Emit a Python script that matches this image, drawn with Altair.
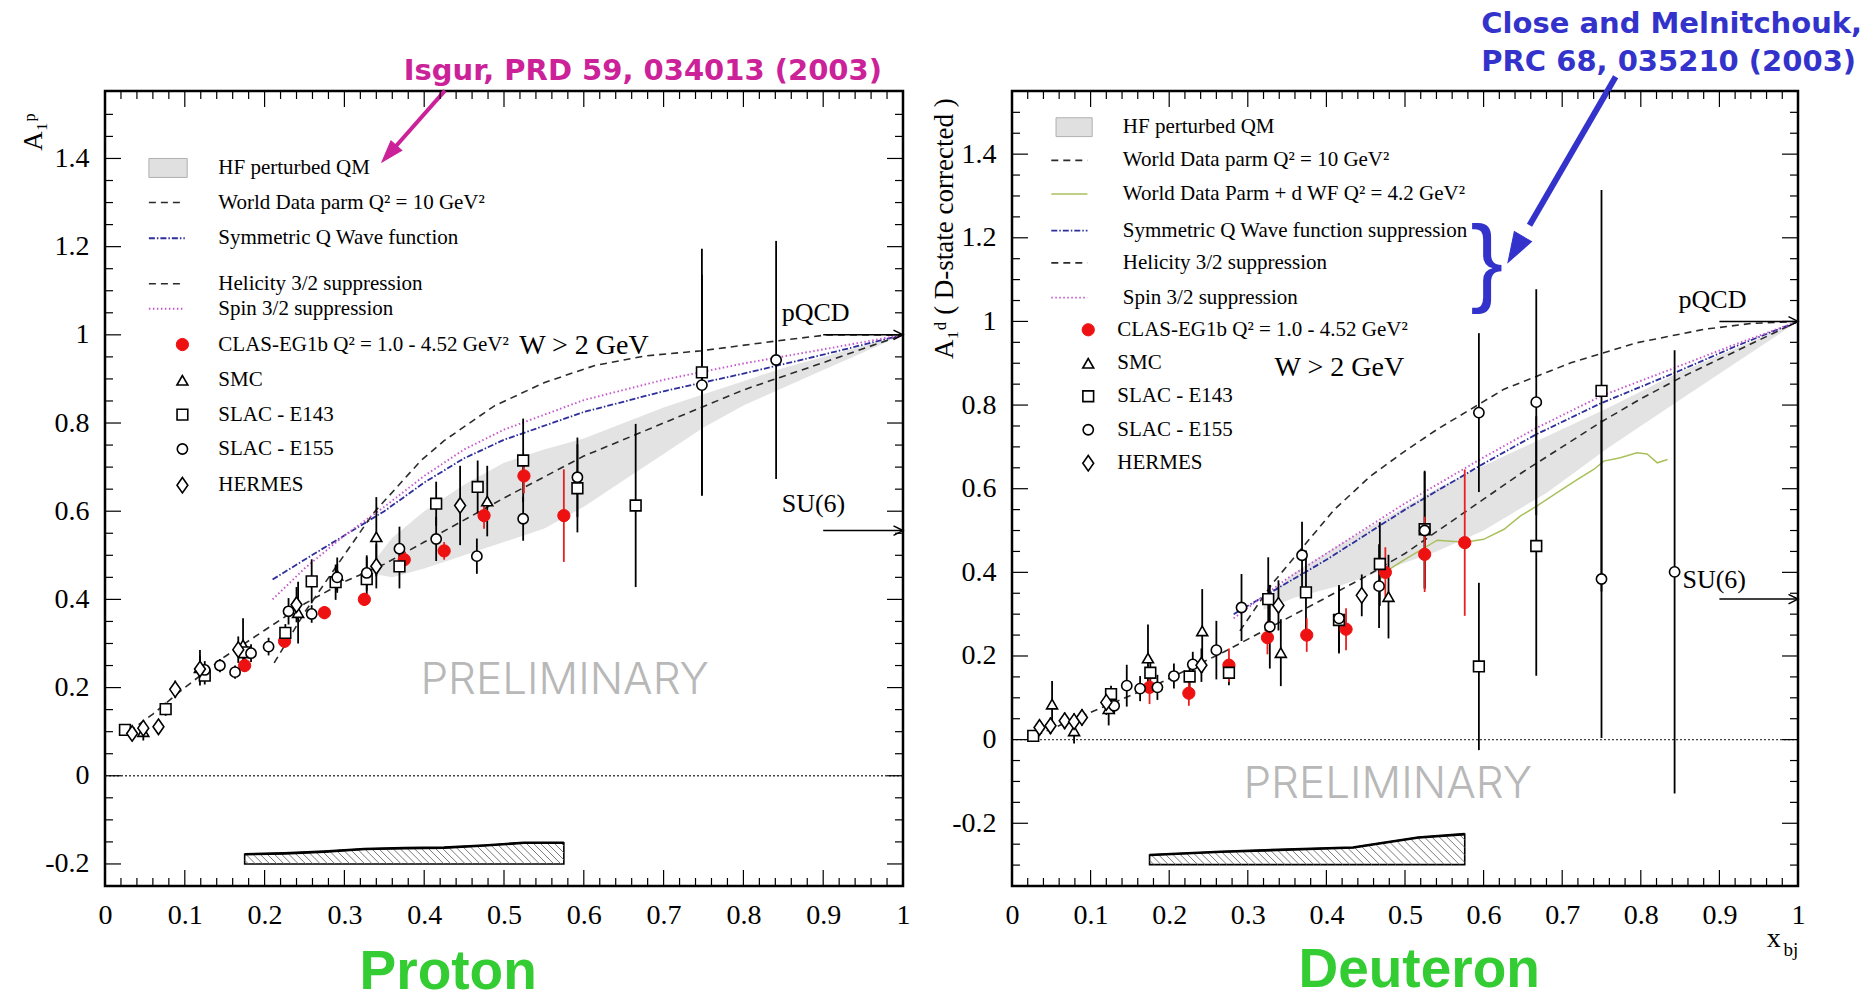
import altair as alt
import numpy as np
import pandas as pd

SERIF = "Liberation Serif"
HEAD = "DejaVu Sans"
BIG = "Liberation Sans"

# ---------------- shared axis structure ----------------
X_LABELS = [0, 0.1, 0.2, 0.3, 0.4, 0.5, 0.6, 0.7, 0.8, 0.9, 1]
X_MAJOR = [0.1, 0.2, 0.3, 0.4, 0.5, 0.6, 0.7, 0.8, 0.9]
X_MINOR = [round(k * 0.02, 2) for k in range(1, 50) if k % 5]
Y_LABELS = [-0.2, 0, 0.2, 0.4, 0.6, 0.8, 1, 1.2, 1.4]
Y_MAJOR = [-0.2, 0, 0.2, 0.4, 0.6, 0.8, 1, 1.2, 1.4]
P_YMINOR = [round(k * 0.05, 2) for k in range(-4, 31) if k % 4]
D_YMINOR = [round(k * 0.05, 2) for k in range(-6, 31) if k % 4]

# ---------------- PROTON data ----------------
P_CLAS_X = [0.175, 0.225, 0.275, 0.325, 0.375, 0.425, 0.475, 0.525, 0.575]
P_CLAS_Y = [0.25, 0.305, 0.37, 0.40, 0.49, 0.51, 0.59, 0.68, 0.59]
P_CLAS_E = [0.015, 0.015, 0.015, 0.015, 0.02, 0.02, 0.03, 0.04, 0.105]

P_SMC_X = [0.048, 0.119, 0.173, 0.242, 0.291, 0.340, 0.479]
P_SMC_Y = [0.10, 0.245, 0.297, 0.37, 0.455, 0.542, 0.623]
P_SMC_E = [0.02, 0.04, 0.06, 0.07, 0.04, 0.09, 0.08]

P_E143_X = [0.025, 0.076, 0.125, 0.175, 0.226, 0.259, 0.289, 0.328, 0.369, 0.415, 0.467, 0.524, 0.592, 0.665, 0.748]
P_E143_Y = [0.104, 0.151, 0.227, 0.28, 0.324, 0.441, 0.439, 0.446, 0.475, 0.617, 0.655, 0.715, 0.652, 0.613, 0.915]
P_E143_E = [0.01, 0.015, 0.02, 0.02, 0.02, 0.05, 0.04, 0.05, 0.05, 0.05, 0.06, 0.095, 0.10, 0.185, 0.28]

P_E155_X = [0.125, 0.144, 0.163, 0.183, 0.205, 0.23, 0.259, 0.291, 0.328, 0.369, 0.415, 0.466, 0.524, 0.592, 0.748, 0.841]
P_E155_Y = [0.24, 0.25, 0.235, 0.278, 0.293, 0.373, 0.367, 0.45, 0.46, 0.515, 0.537, 0.498, 0.583, 0.677, 0.886, 0.943]
P_E155_E = [0.02, 0.015, 0.015, 0.02, 0.02, 0.03, 0.02, 0.03, 0.04, 0.05, 0.05, 0.04, 0.05, 0.09, 0.25, 0.27]

P_HER_X = [0.034, 0.048, 0.067, 0.088, 0.119, 0.167, 0.24, 0.34, 0.445]
P_HER_Y = [0.096, 0.108, 0.111, 0.196, 0.242, 0.286, 0.388, 0.475, 0.613]
P_HER_E = [0.015, 0.015, 0.015, 0.02, 0.03, 0.03, 0.04, 0.05, 0.09]

# model curves (proton)
P_WD_X = [0.03, 0.06, 0.1, 0.15, 0.2, 0.25, 0.3, 0.35, 0.4, 0.5, 0.6, 0.7, 0.8, 0.9, 1.0]
P_WD_Y = [0.10, 0.14, 0.20, 0.27, 0.33, 0.39, 0.44, 0.48, 0.53, 0.63, 0.725, 0.80, 0.875, 0.937, 1.0]
P_HEL_X = [0.212, 0.25, 0.29, 0.336, 0.396, 0.425, 0.488, 0.551, 0.613, 0.676, 0.748, 0.841, 0.906, 1.0]
P_HEL_Y = [0.256, 0.37, 0.475, 0.595, 0.715, 0.76, 0.839, 0.892, 0.93, 0.952, 0.964, 0.986, 1.0, 1.0]
P_SYM_X = [0.21, 0.25, 0.3, 0.35, 0.4, 0.45, 0.5, 0.6, 0.7, 0.8, 0.9, 1.0]
P_SYM_Y = [0.445, 0.49, 0.545, 0.60, 0.665, 0.72, 0.762, 0.825, 0.872, 0.912, 0.955, 1.0]
P_SPIN_Y = [0.40, 0.47, 0.545, 0.61, 0.68, 0.74, 0.785, 0.852, 0.898, 0.935, 0.967, 1.0]
P_BAND_X = [0.33, 0.36, 0.4, 0.45, 0.5, 0.55, 0.6, 0.65, 0.7, 0.75, 0.8, 0.85, 0.9, 0.95, 1.0]
P_BAND_HI = [0.47, 0.54, 0.60, 0.66, 0.71, 0.74, 0.765, 0.80, 0.835, 0.865, 0.895, 0.925, 0.95, 0.975, 1.0]
P_BAND_LO = [0.46, 0.45, 0.47, 0.50, 0.53, 0.56, 0.61, 0.67, 0.73, 0.79, 0.84, 0.88, 0.92, 0.96, 1.0]
P_SYS_X = [0.175, 0.225, 0.275, 0.325, 0.375, 0.425, 0.475, 0.525, 0.575]
P_SYS_TOP = [-0.178, -0.176, -0.172, -0.166, -0.164, -0.163, -0.158, -0.152, -0.152]
P_SYS_BOT = [-0.2] * 9

# ---------------- DEUTERON data ----------------
D_CLAS_X = [0.175, 0.225, 0.276, 0.325, 0.375, 0.425, 0.475, 0.525, 0.576]
D_CLAS_Y = [0.125, 0.111, 0.178, 0.244, 0.25, 0.264, 0.40, 0.443, 0.471]
D_CLAS_E = [0.04, 0.03, 0.04, 0.04, 0.04, 0.05, 0.06, 0.09, 0.175]

D_SMC_X = [0.051, 0.079, 0.123, 0.173, 0.242, 0.342, 0.479]
D_SMC_Y = [0.085, 0.021, 0.074, 0.195, 0.26, 0.208, 0.342]
D_SMC_E = [0.055, 0.03, 0.04, 0.08, 0.1, 0.08, 0.1]

D_E143_X = [0.027, 0.126, 0.176, 0.226, 0.276, 0.326, 0.374, 0.416, 0.468, 0.525, 0.594, 0.667, 0.750]
D_E143_Y = [0.009, 0.109, 0.16, 0.151, 0.16, 0.336, 0.352, 0.286, 0.42, 0.503, 0.175, 0.463, 0.834]
D_E143_E = [0.01, 0.02, 0.03, 0.03, 0.03, 0.1, 0.1, 0.08, 0.1, 0.14, 0.2, 0.31, 0.48]

D_E155_X = [0.13, 0.146, 0.163, 0.185, 0.206, 0.23, 0.26, 0.292, 0.328, 0.369, 0.416, 0.467, 0.525, 0.594, 0.667, 0.750, 0.843]
D_E155_Y = [0.081, 0.129, 0.122, 0.125, 0.152, 0.18, 0.214, 0.316, 0.27, 0.441, 0.29, 0.367, 0.50, 0.782, 0.807, 0.384, 0.401]
D_E155_E = [0.02, 0.05, 0.03, 0.03, 0.03, 0.03, 0.07, 0.08, 0.1, 0.08, 0.08, 0.1, 0.14, 0.19, 0.27, 0.38, 0.53]

D_HER_X = [0.035, 0.049, 0.067, 0.079, 0.089, 0.12, 0.241, 0.339, 0.445]
D_HER_Y = [0.029, 0.033, 0.045, 0.043, 0.053, 0.089, 0.178, 0.321, 0.345]
D_HER_E = [0.015, 0.02, 0.02, 0.02, 0.02, 0.03, 0.04, 0.06, 0.05]

D_WD_X = [0.03, 0.1, 0.19, 0.27, 0.36, 0.445, 0.5, 0.55, 0.6, 0.65, 0.7, 0.75, 0.8, 0.85, 0.9, 0.95, 1.0]
D_WD_Y = [0.01, 0.065, 0.137, 0.21, 0.30, 0.385, 0.445, 0.51, 0.575, 0.64, 0.70, 0.76, 0.815, 0.865, 0.91, 0.955, 1.0]
D_HEL_X = [0.29, 0.33, 0.372, 0.41, 0.456, 0.5, 0.541, 0.626, 0.711, 0.795, 0.88, 0.94, 1.0]
D_HEL_Y = [0.26, 0.37, 0.465, 0.55, 0.63, 0.69, 0.742, 0.838, 0.901, 0.949, 0.981, 0.995, 1.0]
D_SYM_X = [0.282, 0.35, 0.4, 0.45, 0.5, 0.55, 0.6, 0.667, 0.75, 0.843, 0.92, 1.0]
D_SYM_Y = [0.30, 0.375, 0.43, 0.49, 0.55, 0.605, 0.66, 0.73, 0.805, 0.877, 0.94, 1.0]
D_SPIN_Y = [0.29, 0.385, 0.445, 0.505, 0.565, 0.62, 0.675, 0.745, 0.822, 0.889, 0.945, 1.0]
D_DWF_X = [0.47, 0.474, 0.499, 0.541, 0.576, 0.600, 0.626, 0.647, 0.668, 0.694, 0.719, 0.740, 0.753, 0.774, 0.795, 0.808, 0.821, 0.834]
D_DWF_Y = [0.385, 0.40, 0.43, 0.477, 0.472, 0.479, 0.503, 0.535, 0.559, 0.591, 0.622, 0.646, 0.666, 0.674, 0.686, 0.683, 0.662, 0.670]
D_BAND_X = [0.32, 0.36, 0.42, 0.48, 0.54, 0.6, 0.68, 0.76, 0.84, 0.92, 1.0]
D_BAND_HI = [0.33, 0.40, 0.47, 0.535, 0.60, 0.655, 0.725, 0.795, 0.87, 0.935, 1.0]
D_BAND_LO = [0.31, 0.34, 0.37, 0.41, 0.45, 0.50, 0.59, 0.70, 0.80, 0.90, 1.0]
D_SYS_X = [0.175, 0.266, 0.434, 0.471, 0.517, 0.576]
D_SYS_TOP = [-0.276, -0.268, -0.258, -0.247, -0.234, -0.226]
D_SYS_BOT = [-0.299] * 6

# ---------------- legend text ----------------
P_LEG_LINES = ["HF perturbed QM", "World Data parm Q\u00b2 = 10 GeV\u00b2", "Symmetric Q Wave function",
               "Helicity 3/2 suppression", "Spin 3/2 suppression"]
P_LEG_LINES_Y = [1.378, 1.30, 1.219, 1.116, 1.059]
P_LEG_MARKS = ["CLAS-EG1b Q\u00b2 = 1.0 - 4.52 GeV\u00b2", "SMC", "SLAC - E143", "SLAC - E155", "HERMES"]
P_LEG_MARKS_Y = [0.978, 0.897, 0.819, 0.741, 0.659]

D_LEG_LINES = ["HF perturbed QM", "World Data parm Q\u00b2 = 10 GeV\u00b2", "World Data Parm + d WF Q\u00b2 = 4.2 GeV\u00b2",
               "Symmetric Q Wave function suppression", "Helicity 3/2 suppression", "Spin 3/2 suppression"]
D_LEG_LINES_Y = [1.464, 1.385, 1.305, 1.217, 1.140, 1.057]
D_LEG_MARKS = P_LEG_MARKS
D_LEG_MARKS_Y = [0.980, 0.900, 0.821, 0.741, 0.661]

# ---------------- styles ----------------
STY = {
    "wd": dict(color="#2b2b2b", strokeDash=[7, 5], strokeWidth=1.6),
    "hel": dict(color="#2b2b2b", strokeDash=[7, 5], strokeWidth=1.6),
    "sym": dict(color="#2e2e9c", strokeDash=[6, 2, 1.5, 2], strokeWidth=1.8),
    "spin": dict(color="#c455cc", strokeDash=[1.5, 2.5], strokeWidth=1.9),
    "dwf": dict(color="#a8c05c", strokeWidth=1.5),
}
DIAMOND = "M 0 -1 L 0.7 0 L 0 1 L -0.7 0 Z"
PT = {
    "clas": dict(shape="circle", size=150, fill="#ee1111", stroke="#ee1111", strokeWidth=1),
    "smc": dict(shape="triangle-up", size=120, fill="white", stroke="black", strokeWidth=1.6),
    "e143": dict(shape="square", size=115, fill="white", stroke="black", strokeWidth=1.6),
    "e155": dict(shape="circle", size=105, fill="white", stroke="black", strokeWidth=1.6),
    "hermes": dict(shape=DIAMOND, size=240, fill="white", stroke="black", strokeWidth=1.6),
}
BARC = {"clas": "#e82020", "smc": "black", "e143": "black", "e155": "black", "hermes": "black"}
ORDER = ["hermes", "smc", "e143", "e155", "clas"]


def pts(xs, ys, errs=None):
    d = {"x": list(xs), "y": list(ys)}
    if errs is not None:
        d["lo"] = [round(a - b, 4) for a, b in zip(ys, errs)]
        d["hi"] = [round(a + b, 4) for a, b in zip(ys, errs)]
    return pd.DataFrame(d)


def hatch_lines(sx, stop, sbot, W, H, ydom, spacing_px=7.0):
    """45-degree '\\' hatch strokes filling the systematic-error band."""
    ppy = H / (ydom[1] - ydom[0])
    x0, x1 = sx[0], sx[-1]
    rows = []
    xi = x0 - 0.06
    while xi < x1:
        yt = float(np.interp(min(max(xi, x0), x1), sx, stop))
        yb = float(np.interp(min(max(xi, x0), x1), sx, sbot))
        xe = xi + (yt - yb) * ppy / W
        t0 = max(0.0, (x0 - xi) / (xe - xi))
        t1 = min(1.0, (x1 - xi) / (xe - xi))
        if t1 > t0:
            rows.append({"x": xi + t0 * (xe - xi), "y": yt + t0 * (yb - yt),
                         "x2": xi + t1 * (xe - xi), "y2": yt + t1 * (yb - yt)})
        xi += spacing_px / W
    return pd.DataFrame(rows)


def panel(p):
    W, H = p["W"], p["H"]
    xs = alt.Scale(domain=[0, 1], nice=False, zero=False)
    ys = alt.Scale(domain=p["ydom"], nice=False, zero=False)
    AX = alt.Axis(values=X_LABELS, format="~g", title=None, ticks=False, domain=False, grid=False,
                  labelFont=SERIF, labelFontSize=28, labelColor="black", labelPadding=15,
                  labelOverlap=False, labelFlush=False)
    AY = alt.Axis(values=Y_LABELS, format="~g", title=None, ticks=False, domain=False, grid=False,
                  labelExpr="replace(datum.label, '\u2212', '-')",
                  labelFont=SERIF, labelFontSize=28, labelColor="black", labelPadding=p["ylabpad"],
                  labelOverlap=False, labelFlush=False)

    def ex(f="x"):
        return alt.X(f"{f}:Q", scale=xs, axis=AX)

    def ey(f="y"):
        return alt.Y(f"{f}:Q", scale=ys, axis=AY)

    L = []
    # HF band
    bx, bhi, blo = p["band"]
    L.append(alt.Chart(pd.DataFrame({"x": bx, "hi": bhi, "lo": blo})).mark_area(color="#e3e3e3").encode(
        x=ex(), y=ey("hi"), y2=alt.Y2("lo")))
    # zero line
    L.append(alt.Chart(pd.DataFrame({"y": [0]})).mark_rule(color="#444", strokeDash=[2, 2], strokeWidth=1.3).encode(
        y=ey(), x=alt.value(0), x2=alt.value(W)))
    # systematic band: outline + hatch + thick top edge
    sx, stop, sbot = p["sys"]
    sdf = pd.DataFrame({"x": sx, "top": stop, "bot": sbot})
    L.append(alt.Chart(sdf).mark_area(fill="white", stroke="black", strokeWidth=1.6).encode(
        x=ex(), y=ey("top"), y2=alt.Y2("bot")))
    L.append(alt.Chart(hatch_lines(sx, stop, sbot, W, H, p["ydom"])).mark_rule(
        color="#6a6a6a", strokeWidth=0.9).encode(x=ex(), y=ey(), x2=alt.X2("x2"), y2=alt.Y2("y2")))
    L.append(alt.Chart(sdf).mark_line(color="black", strokeWidth=2.6).encode(x=ex(), y=ey("top")))
    # curves + legend samples
    for key, cx, cy, ly in p["curves"]:
        lx0, lx1 = p["legline_x"]
        d = pd.DataFrame({"x": list(cx) + [lx0, lx1], "y": list(cy) + [ly, ly],
                          "g": ["c"] * len(cx) + ["l", "l"]})
        L.append(alt.Chart(d).mark_line(**STY[key]).encode(x=ex(), y=ey(), detail="g:N"))
    # legend box for HF band
    bxl, byl = p["legbox"]
    L.append(alt.Chart(pd.DataFrame({"x": [bxl[0]], "x2": [bxl[1]], "y": [byl[0]], "y2": [byl[1]]}))
             .mark_rect(fill="#e0e0e0", stroke="#b0b0b0", strokeWidth=1).encode(
        x=ex(), x2=alt.X2("x2"), y=ey(), y2=alt.Y2("y2")))
    # error bars
    for key in ORDER:
        sx_, sy_, se_ = p["sets"][key]
        L.append(alt.Chart(pts(sx_, sy_, se_)).mark_rule(color=BARC[key], strokeWidth=1.8).encode(
            x=ex(), y=ey("lo"), y2=alt.Y2("hi")))
    # markers (+ legend marker)
    mx = p["legmark_x"]
    for i, key in enumerate(["clas", "smc", "e143", "e155", "hermes"]):
        sx_, sy_, se_ = p["sets"][key]
        d = pts(list(sx_) + [mx], list(sy_) + [p["legmark_y"][i]])
        L.append(alt.Chart(d).mark_point(filled=True, opacity=1, **PT[key]).encode(x=ex(), y=ey()))
    # legend texts
    tl = pd.DataFrame({"x": [p["legtext_x"]] * len(p["leglines"]), "y": p["leglines_y"], "t": p["leglines"]})
    tm = pd.DataFrame({"x": [p["legmtext_x"]] * len(p["legmarks"]), "y": p["legmarks_y"], "t": p["legmarks"]})
    for d in (tl, tm):
        L.append(alt.Chart(d).mark_text(font=SERIF, fontSize=21, align="left", baseline="middle",
                                        color="black").encode(x=ex(), y=ey(), text="t:N"))
    # misc serif texts
    for (tx, ty, txt, fs) in p["texts"]:
        L.append(alt.Chart(pd.DataFrame({"x": [tx], "y": [ty], "t": [txt]})).mark_text(
            font=SERIF, fontSize=fs, align="left", baseline="middle", color="black").encode(
            x=ex(), y=ey(), text="t:N"))
    # pQCD / SU(6) arrows
    arr = pd.DataFrame({"x": [0.9, 0.9], "x2": [1.0, 1.0], "y": p["arrows_y"]})
    L.append(alt.Chart(arr).mark_rule(color="black", strokeWidth=1.5).encode(
        x=ex(), x2=alt.X2("x2"), y=ey()))
    L.append(alt.Chart(arr).mark_point(shape="M -2 -1 L 0 0 L -2 1", size=90, filled=False, color="black",
                                       strokeWidth=1.5, opacity=1).encode(x=ex("x2"), y=ey()))
    # PRELIMINARY
    prx, pry = p["prelim"]
    L.append(alt.Chart(pd.DataFrame({"x": [prx], "y": [pry], "t": ["PRELIMINARY"]})).mark_text(
        font="Inter", fontWeight=300, fontSize=44, color="#b8b8b8", align="center", baseline="middle").encode(
        x=ex(), y=ey(), text="t:N"))
    # y title (rotated)
    tx, ty, ttxt = p["ytitle"]
    L.append(alt.Chart(pd.DataFrame({"x": [tx], "y": [ty], "t": [ttxt]})).mark_text(
        font=SERIF, fontSize=27, angle=270, align="center", baseline="middle", color="black").encode(
        x=ex(), y=ey(), text="t:N"))
    # big green label
    gx, gy, gtxt = p["label"]
    L.append(alt.Chart(pd.DataFrame({"x": [gx], "y": [gy], "t": [gtxt]})).mark_text(
        font=BIG, fontWeight="bold", fontSize=55, color="#33cc33", align="center", baseline="middle").encode(
        x=ex(), y=ey(), text="t:N"))
    # citation text
    for (cx_, cy_, ctxt, align) in p["cite"]:
        L.append(alt.Chart(pd.DataFrame({"x": [cx_], "y": [cy_], "t": [ctxt]})).mark_text(
            font=HEAD, fontWeight="bold", fontSize=29, color=p["cite_color"], align=align,
            baseline="middle").encode(x=ex(), y=ey(), text="t:N"))
    # citation arrow
    (ax0, ay0), (ax1, ay1), ang, hsize, lw = p["cite_arrow"]
    f = 0.8
    sh = pd.DataFrame({"x": [ax0], "y": [ay0], "x2": [ax0 + f * (ax1 - ax0)], "y2": [ay0 + f * (ay1 - ay0)]})
    L.append(alt.Chart(sh).mark_rule(color=p["cite_color"], strokeWidth=lw).encode(
        x=ex(), y=ey(), x2=alt.X2("x2"), y2=alt.Y2("y2")))
    L.append(alt.Chart(pd.DataFrame({"x": [ax1], "y": [ay1]})).mark_point(
        shape="M 0 0 L -0.8 2.4 L 0.8 2.4 Z", size=hsize, angle=ang, filled=True, opacity=1,
        fill=p["cite_color"], stroke=p["cite_color"], strokeWidth=1).encode(x=ex(), y=ey()))
    # extra texts (brace, x_bj)
    for (ex_x, ex_y, etxt, font, fs, col) in p["extra"]:
        L.append(alt.Chart(pd.DataFrame({"x": [ex_x], "y": [ex_y], "t": [etxt]})).mark_text(
            font=font, fontSize=fs, color=col, align="center", baseline="middle").encode(
            x=ex(), y=ey(), text="t:N"))
    # inward ticks on all four sides
    for vals, ln in ((X_MAJOR, 16), (X_MINOR, 8)):
        d = pd.DataFrame({"x": vals})
        L.append(alt.Chart(d).mark_rule(color="black", strokeWidth=1.2).encode(
            x=ex(), y=alt.value(H), y2=alt.value(H - ln)))
        L.append(alt.Chart(d).mark_rule(color="black", strokeWidth=1.2).encode(
            x=ex(), y=alt.value(0), y2=alt.value(ln)))
    for vals, ln in ((Y_MAJOR, 16), (p["yminor"], 8)):
        d = pd.DataFrame({"y": vals})
        L.append(alt.Chart(d).mark_rule(color="black", strokeWidth=1.2).encode(
            y=ey(), x=alt.value(0), x2=alt.value(ln)))
        L.append(alt.Chart(d).mark_rule(color="black", strokeWidth=1.2).encode(
            y=ey(), x=alt.value(W), x2=alt.value(W - ln)))
    return alt.layer(*L).properties(width=W, height=H)


proton = dict(
    W=798, H=795, ydom=[-0.25, 1.553], yminor=P_YMINOR, ylabpad=16,
    band=(P_BAND_X, P_BAND_HI, P_BAND_LO),
    sys=(P_SYS_X, P_SYS_TOP, P_SYS_BOT),
    curves=[("wd", P_WD_X, P_WD_Y, 1.30), ("sym", P_SYM_X, P_SYM_Y, 1.219),
            ("hel", P_HEL_X, P_HEL_Y, 1.116), ("spin", P_SYM_X, P_SPIN_Y, 1.059)],
    legline_x=(0.055, 0.10), legbox=((0.055, 0.103), (1.357, 1.40)),
    sets={"clas": (P_CLAS_X, P_CLAS_Y, P_CLAS_E), "smc": (P_SMC_X, P_SMC_Y, P_SMC_E),
          "e143": (P_E143_X, P_E143_Y, P_E143_E), "e155": (P_E155_X, P_E155_Y, P_E155_E),
          "hermes": (P_HER_X, P_HER_Y, P_HER_E)},
    legmark_x=0.097, legmark_y=P_LEG_MARKS_Y,
    leglines=P_LEG_LINES, leglines_y=P_LEG_LINES_Y, legtext_x=0.142,
    legmarks=P_LEG_MARKS, legmarks_y=P_LEG_MARKS_Y, legmtext_x=0.142,
    texts=[(0.519, 0.975, "W > 2 GeV", 28), (0.848, 1.049, "pQCD", 26), (0.848, 0.616, "SU(6)", 26)],
    arrows_y=[1.0, 0.556],
    prelim=(0.576, 0.214),
    ytitle=(-0.089, 1.46, "A\u2081\u1d56"),
    label=(0.43, -0.444, "Proton"),
    cite=[(0.674, 1.599, "Isgur, PRD 59, 034013 (2003)", "center")], cite_color="#cc2299",
    cite_arrow=((0.426, 1.554), (0.347, 1.392), 221.6, 330, 4),
    extra=[],
)

deuteron = dict(
    W=786, H=795, ydom=[-0.35, 1.551], yminor=D_YMINOR, ylabpad=16,
    band=(D_BAND_X, D_BAND_HI, D_BAND_LO),
    sys=(D_SYS_X, D_SYS_TOP, D_SYS_BOT),
    curves=[("wd", D_WD_X, D_WD_Y, 1.385), ("dwf", D_DWF_X, D_DWF_Y, 1.305),
            ("sym", D_SYM_X, D_SYM_Y, 1.217), ("hel", D_HEL_X, D_HEL_Y, 1.140),
            ("spin", D_SYM_X, D_SPIN_Y, 1.057)],
    legline_x=(0.05, 0.096), legbox=((0.056, 0.102), (1.442, 1.487)),
    sets={"clas": (D_CLAS_X, D_CLAS_Y, D_CLAS_E), "smc": (D_SMC_X, D_SMC_Y, D_SMC_E),
          "e143": (D_E143_X, D_E143_Y, D_E143_E), "e155": (D_E155_X, D_E155_Y, D_E155_E),
          "hermes": (D_HER_X, D_HER_Y, D_HER_E)},
    legmark_x=0.097, legmark_y=D_LEG_MARKS_Y,
    leglines=D_LEG_LINES, leglines_y=D_LEG_LINES_Y, legtext_x=0.141,
    legmarks=D_LEG_MARKS, legmarks_y=D_LEG_MARKS_Y, legmtext_x=0.134,
    texts=[(0.334, 0.889, "W > 2 GeV", 28), (0.848, 1.051, "pQCD", 26), (0.853, 0.382, "SU(6)", 26)],
    arrows_y=[1.0, 0.336],
    prelim=(0.478, -0.109),
    ytitle=(-0.085, 1.222, "A\u2081\u1d48 ( D-state corrected )"),
    label=(0.518, -0.551, "Deuteron"),
    cite=[(0.597, 1.712, "Close and Melnitchouk,", "left"), (0.597, 1.621, "PRC 68, 035210 (2003)", "left")],
    cite_color="#3333cc",
    cite_arrow=((0.768, 1.585), (0.631, 1.141), 210.1, 620, 6),
    extra=[(0.604, 1.134, "}", BIG, 98, "#3333cc"),
           (0.969, -0.477, "x", SERIF, 28, "black"),
           (0.991, -0.503, "bj", SERIF, 19, "black")],
)

chart = alt.hconcat(panel(proton), panel(deuteron), spacing=17).properties(
    padding={"left": 18, "top": 8, "right": 0, "bottom": 0}, background="white"
).configure_view(stroke="black", strokeWidth=2.5)

chart.save("out.html", embed_options={"renderer": "svg", "actions": False})
